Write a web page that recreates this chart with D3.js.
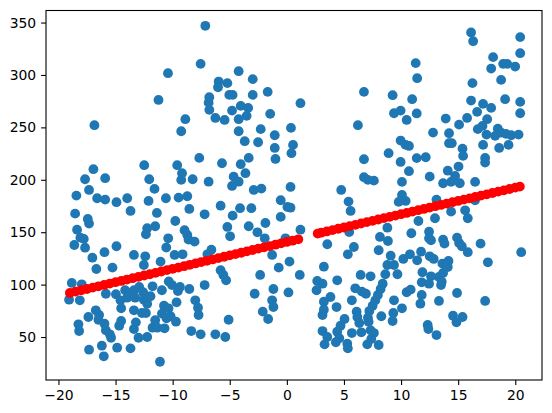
<!DOCTYPE html>
<html><head><meta charset="utf-8">
<script src="https://cdn.jsdelivr.net/npm/d3@7"></script>
<style>body{margin:0;background:#fff}svg{display:block}</style>
</head><body>
<svg id="c" width="552" height="413"></svg>
<script>
const xTicks = [-20,-15,-10,-5,0,5,10,15,20];
const yTicks = [50,100,150,200,250,300,350];
const blueX = [
-10.41,-11.24,-16.85,-16.94,-17.67,-15.91,-17.32,-12.49,-12.05,-11.59,
-7.14,-7.55,-4.22,-2.99,-5.97,-5.21,-6.03,-1.68,-5.04,-4.75,
-2.99,-6.79,-6.85,-6.79,-4.04,-3.39,-4.80,-3.52,-1.46,-4.22,
-6.26,-5.45,-8.89,-9.25,-4.22,-2.29,-3.69,-2.52,-1.06,-1.06,
-7.67,-9.60,-5.68,-4.04,-3.34,-1.00,-3.63,-9.18,-9.25,-8.25,
-6.85,-4.66,-4.22,-4.80,-2.90,-2.23,0.32,1.19,0.36,0.54,
0.40,6.75,6.22,6.75,6.75,7.10,7.62,4.76,9.26,10.97,
9.38,9.96,10.49,11.37,11.28,11.41,9.96,10.40,10.69,8.91,
9.96,11.37,10.69,10.08,16.13,16.31,20.43,20.43,18.06,17.89,
18.94,19.29,19.99,18.76,16.25,16.13,17.18,17.89,19.11,20.43,
20.43,16.66,15.78,13.91,15.08,17.54,17.13,16.72,12.80,14.20,
17.48,18.47,18.24,18.76,19.18,19.64,20.29,14.20,14.44,17.18,
18.59,19.41,15.38,15.43,17.36,17.36,12.16,15.03,14.09,12.51,
14.73,13.68,14.38,15.14,16.48,
-18.43,-16.61,-15.91,-14.92,-13.98,-13.69,-12.11,-10.59,-11.38,-18.54,
-17.43,-17.32,-12.23,-11.53,-12.34,-18.37,-18.08,-17.78,-18.61,-17.67,
-14.92,-10.39,-10.56,-17.03,-15.97,-13.39,-12.40,-12.52,-11.06,-16.68,
-15.27,-18.83,-17.96,-19.07,-18.13,-15.85,-14.97,-14.57,-14.16,-13.75,
-13.39,-12.93,-12.58,-11.76,-10.94,-10.34,-13.98,-13.28,-12.52,-11.94,
-14.51,-12.23,-13.39,-12.69,-12.34,-10.76,-10.94,-10.36,-17.38,-16.73,
-16.44,-16.50,-15.97,-14.51,-14.68,-13.22,-13.39,-18.25,-18.19,-15.85,
-15.50,-15.39,-12.99,-12.23,-11.76,-11.53,-11.35,-10.71,-10.54,-17.32,
-16.20,-16.03,-14.86,-13.69,-11.11,
-9.48,-8.72,-8.54,-7.20,-5.80,-4.75,-4.10,-3.11,-0.54,0.05,
-0.54,-9.77,-5.21,-4.97,-3.34,-2.58,-1.88,-8.96,-8.72,-8.61,
-8.08,-9.83,-9.13,-6.61,-6.96,-1.94,-1.29,-0.71,0.23,-0.12,
-5.80,-5.56,-5.32,-2.34,-10.06,-9.36,-9.54,-8.54,-7.20,-9.66,
-8.02,-7.78,-7.73,-2.82,-1.18,0.14,-1.29,-1.18,-2.11,-1.64,
-10.18,-9.71,-8.37,-7.55,-6.26,-5.39,-5.10,
5.40,5.58,10.08,10.40,9.79,0.32,1.19,1.13,3.24,3.54,
5.46,5.87,5.34,8.04,8.15,8.85,8.80,9.09,8.80,9.38,
9.68,10.20,10.78,10.90,11.41,2.66,3.12,2.60,4.41,6.46,
7.33,8.62,8.39,8.21,5.99,6.57,6.92,3.82,3.24,5.69,
7.97,7.75,7.51,9.38,10.49,10.84,3.24,3.12,4.35,6.11,
7.22,6.17,7.10,8.27,9.32,10.08,9.26,5.05,4.70,6.34,
7.16,3.12,3.54,3.30,4.41,4.59,4.29,5.29,5.34,5.69,
6.52,7.33,7.62,7.39,7.04,8.04,
13.10,16.48,14.38,15.61,15.84,12.97,11.52,12.45,12.45,12.62,
13.68,13.80,14.90,15.08,15.32,16.96,15.84,20.52,17.60,11.75,
12.51,12.86,13.62,14.15,14.09,13.68,11.87,12.62,13.32,13.56,
11.81,12.45,13.50,11.81,11.69,13.32,14.90,17.36,14.55,15.38,
14.85,12.33,12.39,13.10
];
const blueY = [
301.7,276.2,252.1,210.1,200.5,201.5,190.3,213.9,200.5,191.3,
346.9,310.6,303.6,296.0,293.7,292.2,288.3,283.9,281.0,281.0,
281.0,278.8,273.6,266.7,270.5,268.6,266.0,261.0,262.9,257.8,
259.0,257.1,257.8,246.3,246.3,248.3,236.8,235.8,242.5,230.4,
220.9,213.9,215.8,214.9,220.9,219.9,206.3,206.3,199.9,200.5,
198.2,203.0,198.2,194.1,190.3,191.6,193.2,273.1,249.5,233.3,
225.4,283.9,252.1,219.6,202.4,199.9,199.2,190.3,280.7,276.9,
263.5,266.0,257.1,263.3,311.3,296.9,237.4,233.3,232.3,225.4,
217.0,220.7,208.2,198.0,340.5,332.2,336.1,320.8,317.0,306.1,
310.6,310.6,308.0,295.3,292.2,275.6,272.4,268.6,276.9,274.3,
263.5,264.8,259.0,258.4,252.6,257.8,251.4,248.3,245.0,244.4,
243.1,248.8,241.9,245.0,243.8,242.5,243.1,234.9,234.9,233.3,
230.4,233.3,229.7,222.8,220.9,216.4,221.5,212.6,208.7,203.0,
203.7,196.7,198.0,196.7,198.0,
184.9,182.4,181.1,178.6,182.4,170.3,179.8,182.4,168.4,167.7,
162.6,158.2,153.8,155.7,148.0,152.4,144.8,143.6,137.8,135.2,
136.6,144.2,135.4,125.7,130.9,128.3,127.0,118.7,121.9,114.9,
116.2,101.6,100.3,85.6,85.0,91.3,90.8,85.0,94.6,92.0,
94.6,97.7,92.7,98.4,94.6,103.0,87.5,87.5,85.6,88.9,
77.4,81.8,75.5,72.9,72.9,79.9,72.3,77.4,69.1,75.5,
71.0,66.5,62.7,65.3,60.8,64.0,57.6,62.1,55.7,56.4,
52.6,49.3,49.3,50.0,58.9,66.0,58.9,58.3,67.9,37.9,
41.7,31.6,39.8,39.2,26.4,
183.0,184.3,172.2,167.1,175.3,165.8,172.9,172.9,180.5,174.1,
164.6,160.7,155.0,146.1,155.7,149.9,158.8,151.9,147.4,142.9,
141.0,128.3,128.9,133.3,128.9,144.2,128.3,116.2,121.9,144.2,
113.7,109.2,104.1,109.2,99.6,97.7,93.9,95.8,99.6,83.1,
85.0,78.0,71.0,91.3,95.8,92.5,85.0,78.6,74.2,67.2,
69.8,64.6,55.7,52.6,52.6,50.0,66.5,
179.2,170.3,185.5,179.8,178.9,173.4,152.4,109.2,117.1,138.5,
150.2,135.9,128.9,132.8,145.5,141.6,154.3,127.6,118.7,118.7,
109.9,124.5,128.9,149.0,123.2,103.5,100.9,94.6,104.1,109.2,
107.9,109.9,100.9,95.8,96.5,93.3,91.3,88.2,83.7,85.0,
90.1,85.0,79.9,85.0,92.7,95.2,76.1,71.0,78.6,74.2,
74.8,69.1,68.4,69.8,72.9,77.4,65.3,67.2,60.8,63.4,
64.6,55.7,50.0,43.0,55.1,48.8,45.0,43.6,39.2,53.8,
54.5,56.4,53.8,48.1,43.0,42.4,
181.1,180.5,169.6,170.9,163.3,163.3,160.7,150.5,144.2,142.3,
142.9,139.1,144.8,139.7,136.6,139.1,130.9,130.9,121.3,131.4,
127.0,124.5,120.0,122.6,116.8,111.1,111.8,107.9,107.3,102.8,
102.2,100.9,99.6,90.1,81.8,84.4,92.0,84.4,70.3,69.1,
64.0,61.5,57.6,51.9
];
const redX = [-19,-18.5,-18,-17.5,-17,-16.5,-16,-15.5,-15,-14.5,-14,-13.5,-13,-12.5,-12,-11.5,-11,-10.5,-10,-9.5,-9,-8.5,-8,-7.5,-7,-6.5,-6,-5.5,-5,-4.5,-4,-3.5,-3,-2.5,-2,-1.5,-1,-0.5,0,0.5,1.0,
2.7,3.0,3.5,4.0,4.5,5.0,5.5,6.0,6.5,7.0,7.5,8.0,8.5,9.0,9.5,10.0,10.5,11.0,11.5,12.0,12.5,13.0,13.5,14.0,14.5,15.0,15.5,16.0,16.5,17.0,17.5,18.0,18.5,19.0,19.5,20.0,20.4];
const redY = [92.0,93.3,94.6,95.8,97.1,98.4,99.7,101.0,102.3,103.5,104.8,106.1,107.4,108.7,109.9,111.2,112.5,113.8,115.1,116.3,117.6,118.9,120.2,121.5,122.7,124.0,125.3,126.6,127.9,129.1,130.4,131.7,133.0,134.3,135.5,136.8,138.1,139.4,140.7,141.9,143.2,
148.7,149.5,150.7,152.0,153.3,154.5,155.8,157.0,158.3,159.6,160.8,162.1,163.4,164.6,165.9,167.2,168.4,169.7,171.0,172.2,173.5,174.8,176.0,177.3,178.6,179.8,181.1,182.3,183.6,184.9,186.1,187.4,188.7,189.9,191.2,192.5,193.5];

const svg = d3.select("#c");
const L = 46, R = 542, T = 10.5, B = 380;
const x = d3.scaleLinear().domain([-21.09, 22.34]).range([L, R]);
const y = d3.scaleLinear().domain([9.0, 361.5]).range([B, T]);

const blue = blueX.map((v, i) => [v, blueY[i]]);
const red = redX.map((v, i) => [v, redY[i]]);
const r = 4.9;

svg.append("g").selectAll("circle").data(blue).join("circle")
  .attr("cx", d => x(d[0])).attr("cy", d => y(d[1])).attr("r", r)
  .attr("fill", "#1f77b4");
svg.append("g").selectAll("circle").data(red).join("circle")
  .attr("cx", d => x(d[0])).attr("cy", d => y(d[1])).attr("r", r)
  .attr("fill", "#ff0000");

const font = "'DejaVu Sans', sans-serif";
const xa = svg.append("g").attr("transform", `translate(0,${B})`)
  .call(d3.axisBottom(x).tickValues(xTicks).tickSize(4.9).tickPadding(4.9).tickSizeOuter(0));
const ya = svg.append("g").attr("transform", `translate(${L},0)`)
  .call(d3.axisLeft(y).tickValues(yTicks).tickSize(4.9).tickPadding(4.9).tickSizeOuter(0));
[xa, ya].forEach(a => {
  a.select(".domain").remove();
  a.selectAll("line").attr("stroke", "#000").attr("stroke-width", 1.1);
  a.selectAll("text").attr("font-family", font).attr("font-size", "13.9px").attr("fill", "#000");
});
svg.append("rect").attr("x", L).attr("y", T).attr("width", R - L).attr("height", B - T)
  .attr("fill", "none").attr("stroke", "#000").attr("stroke-width", 1.1);
</script>
</body></html>
